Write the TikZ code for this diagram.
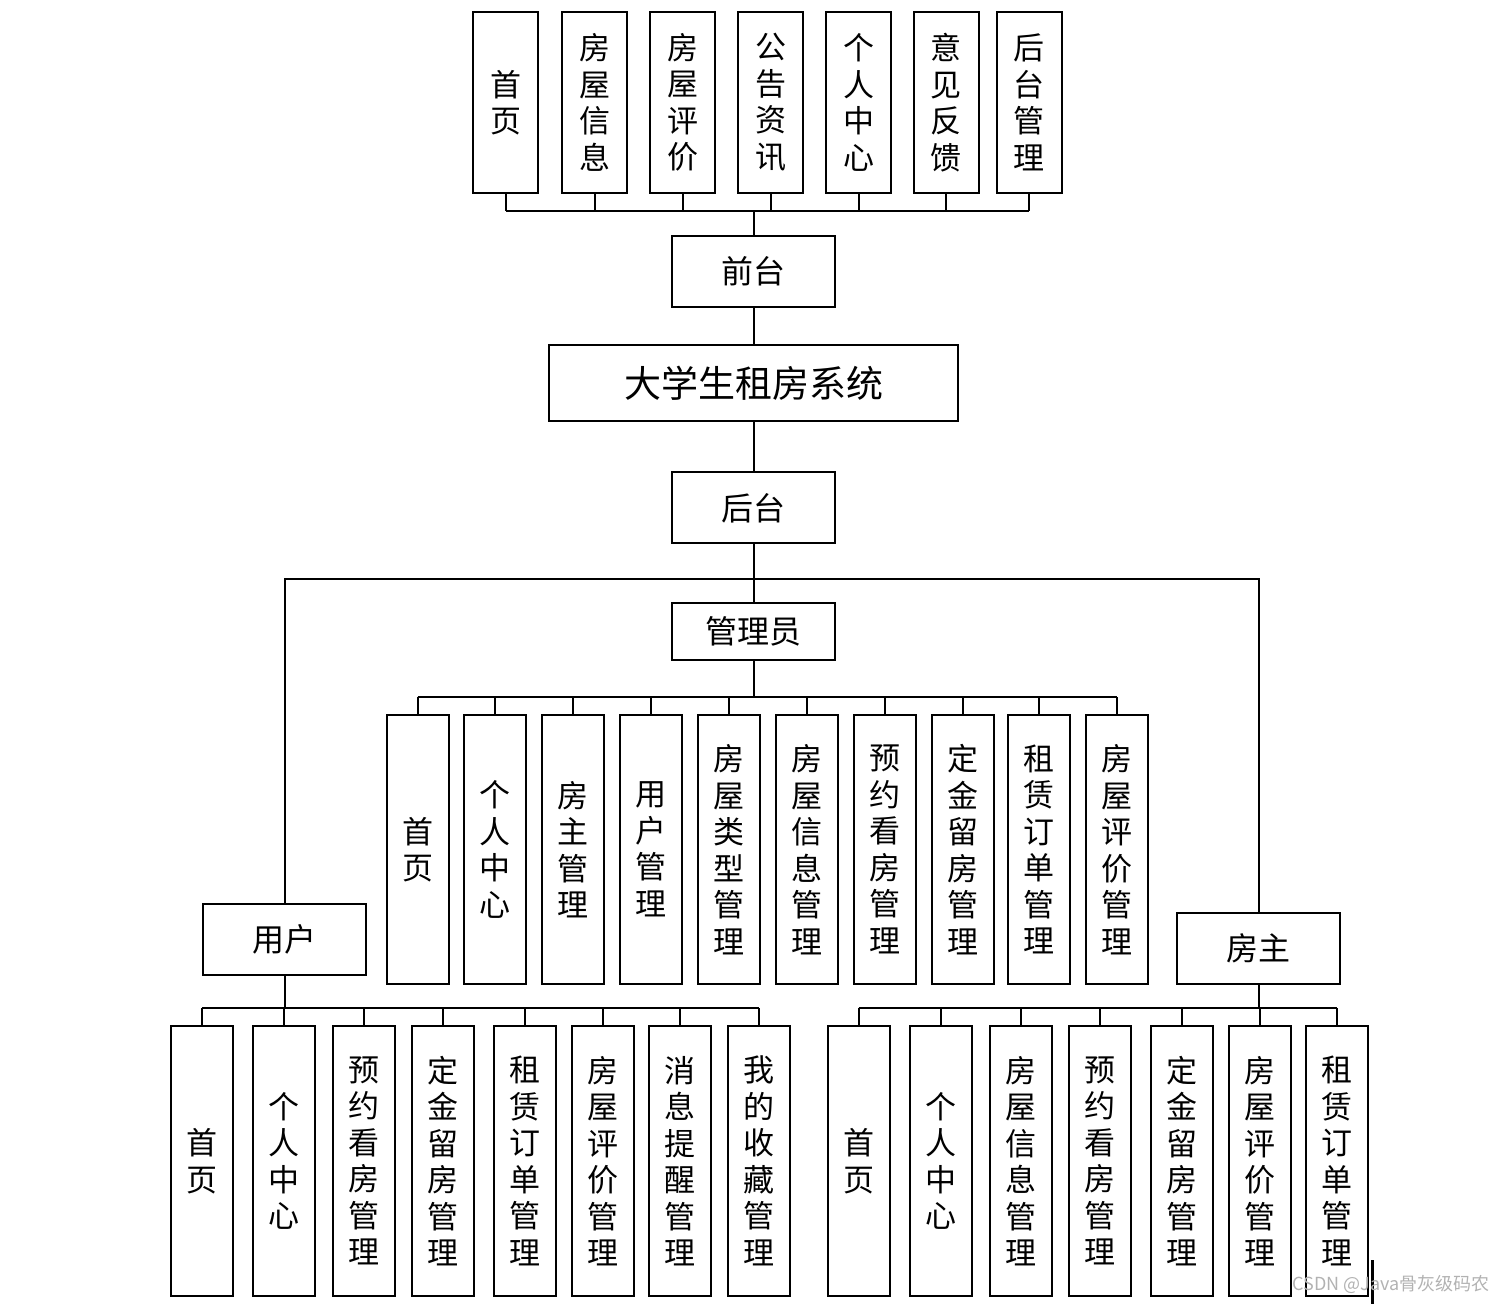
\documentclass[tikz,border=0pt]{standalone}
\usepackage{fontspec}
\newfontfamily\cjk{Noto Sans CJK SC}
\begin{document}
\begin{tikzpicture}[x=0.5pt,y=-0.5pt,
  box/.style={draw=black,line width=1pt,inner sep=0pt,align=center,font=\cjk\fontsize{15.5}{18.25}\selectfont},
  top/.style={box,minimum width=32.5pt,minimum height=90.5pt},
  adm/.style={box,minimum width=31pt,minimum height=134.5pt},
  bot/.style={box,minimum width=31pt,minimum height=135pt},
  hb/.style={box,minimum width=81.5pt,minimum height=35.5pt,font=\cjk\fontsize{16}{18}\selectfont},
  ln/.style={line width=1pt}]
\useasboundingbox (0,0) rectangle (1504,1304);
% top row
\node[top] (t1) at (505.5,102.5) {首\\页};
\node[top] (t2) at (594.5,102.5) {房\\屋\\信\\息};
\node[top] (t3) at (682.5,102.5) {房\\屋\\评\\价};
\node[top] (t4) at (770.5,102.5) {公\\告\\资\\讯};
\node[top] (t5) at (858.5,102.5) {个\\人\\中\\心};
\node[top] (t6) at (946,102.5) {意\\见\\反\\馈};
\node[top] (t7) at (1029,102.5) {后\\台\\管\\理};
\node[hb] (qt) at (753.5,271.5) {前台};
\node[box,minimum width=204.5pt,minimum height=38pt,font=\cjk\fontsize{18.5}{20}\selectfont] (sys) at (753.5,383) {大学生租房系统};
\node[hb] (ht) at (753.5,508) {后台};
\node[hb,minimum height=28.5pt] (gly) at (753.5,631.5) {管理员};
\node[hb] (yh) at (284.5,939) {用户};
\node[hb] (fz) at (1258.5,948) {房主};
% admin row
\node[adm] (a1) at (417.5,849.5) {首\\页};
\node[adm] (a2) at (495,849.5) {个\\人\\中\\心};
\node[adm] (a3) at (572.5,849.5) {房\\主\\管\\理};
\node[adm] (a4) at (650.5,849.5) {用\\户\\管\\理};
\node[adm] (a5) at (728.5,849.5) {房\\屋\\类\\型\\管\\理};
\node[adm] (a6) at (806.5,849.5) {房\\屋\\信\\息\\管\\理};
\node[adm] (a7) at (884.5,849.5) {预\\约\\看\\房\\管\\理};
\node[adm] (a8) at (962.5,849.5) {定\\金\\留\\房\\管\\理};
\node[adm] (a9) at (1039,849.5) {租\\赁\\订\\单\\管\\理};
\node[adm] (a10) at (1116.5,849.5) {房\\屋\\评\\价\\管\\理};
% user row
\node[bot] (u1) at (202,1161) {首\\页};
\node[bot] (u2) at (284,1161) {个\\人\\中\\心};
\node[bot] (u3) at (364,1161) {预\\约\\看\\房\\管\\理};
\node[bot] (u4) at (443,1161) {定\\金\\留\\房\\管\\理};
\node[bot] (u5) at (525,1161) {租\\赁\\订\\单\\管\\理};
\node[bot] (u6) at (603,1161) {房\\屋\\评\\价\\管\\理};
\node[bot] (u7) at (680,1161) {消\\息\\提\\醒\\管\\理};
\node[bot] (u8) at (758.5,1161) {我\\的\\收\\藏\\管\\理};
% owner row
\node[bot] (o1) at (858.5,1161) {首\\页};
\node[bot] (o2) at (940.5,1161) {个\\人\\中\\心};
\node[bot] (o3) at (1020.5,1161) {房\\屋\\信\\息\\管\\理};
\node[bot] (o4) at (1099.5,1161) {预\\约\\看\\房\\管\\理};
\node[bot] (o5) at (1181.5,1161) {定\\金\\留\\房\\管\\理};
\node[bot] (o6) at (1259.5,1161) {房\\屋\\评\\价\\管\\理};
\node[bot] (o7) at (1337,1161) {租\\赁\\订\\单\\管\\理};
% coordinates
\coordinate (bt) at (753.5,211);
\coordinate (bm) at (753.5,579);
\coordinate (ba) at (753.5,697);
\coordinate (bu) at (284.5,1008);
\coordinate (bo) at (1258.5,1008);
% top connectors
\foreach \n in {t1,t2,t3,t4,t5,t6,t7} \draw[ln] (\n.south) -- (\n.south |- bt);
\draw[ln] (t1.south |- bt) -- (t7.south |- bt);
\draw[ln] (bt) -- (qt.north);
\draw[ln] (qt.south) -- (sys.north);
\draw[ln] (sys.south) -- (ht.north);
\draw[ln] (ht.south) -- (gly.north);
\draw[ln] (yh.north) |- (bm) -| (fz.north);
% admin
\draw[ln] (gly.south) -- (ba);
\foreach \n in {a1,a2,a3,a4,a5,a6,a7,a8,a9,a10} \draw[ln] (\n.north) -- (\n.north |- ba);
\draw[ln] (a1.north |- ba) -- (a10.north |- ba);
% user
\draw[ln] (yh.south) -- (bu);
\foreach \n in {u1,u2,u3,u4,u5,u6,u7,u8} \draw[ln] (\n.north) -- (\n.north |- bu);
\draw[line width=1.4pt] (u1.north |- bu) -- (u8.north |- bu);
% owner
\draw[ln] (fz.south) -- (bo);
\foreach \n in {o1,o2,o3,o4,o5,o6,o7} \draw[ln] (\n.north) -- (\n.north |- bo);
\draw[line width=1.4pt] (o1.north |- bo) -- (o7.north |- bo);
% artifact and watermark
\coordinate (art1) at (1372,1260);
\coordinate (art2) at (1372,1304);
\draw[line width=1.5pt] (art1) -- (art2);
\node[font=\cjk\fontsize{9}{10}\selectfont,text=black!30,anchor=east,inner sep=0pt] (wm) at (1490,1284) {CSDN @Java骨灰级码农};
\end{tikzpicture}
\end{document}
